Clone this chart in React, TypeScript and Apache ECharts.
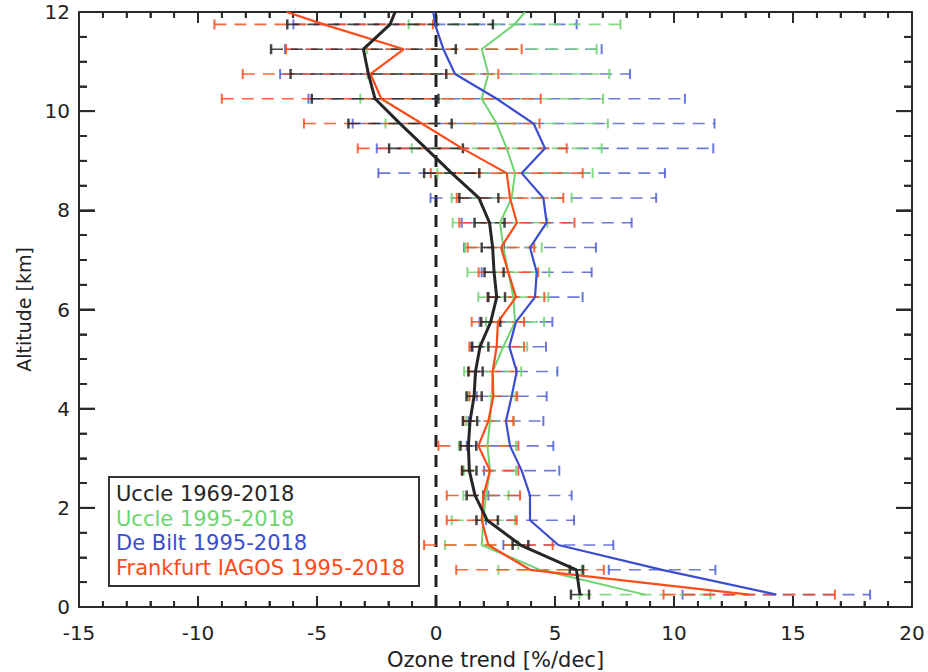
import React, { useEffect, useRef } from "react";
import * as echarts from "echarts";

// Altitude levels (km) of the error bars / profile points, bottom to top
const LEVELS = [0.25, 0.75, 1.25, 1.75, 2.25, 2.75, 3.25, 3.75, 4.25, 4.75, 5.25, 5.75,
  6.25, 6.75, 7.25, 7.75, 8.25, 8.75, 9.25, 9.75, 10.25, 10.75, 11.25, 11.75];
// profile lines continue to the top frame (12 km)
const LINE_LEVELS = [...LEVELS, 12];

// Uccle 1969-2018 (black)
const UCCLE_LONG = [6.05, 5.9, 3.55, 2.15, 1.64, 1.4, 1.36, 1.43, 1.6, 1.66, 1.85, 2.3,
  2.55, 2.44, 2.38, 2.25, 1.8, 0.66, -0.42, -1.51, -2.56, -2.84, -3.05, -1.93, -1.72];
const UCCLE_LONG_ERR = [0.38, 0.28, 0.33, 0.45, 0.35, 0.3, 0.33, 0.3, 0.32, 0.3, 0.35, 0.4,
  0.35, 0.4, 0.46, 0.63, 0.82, 1.16, 1.55, 2.17, 2.66, 3.27, 3.88, 4.32];

// Uccle 1995-2018 (green)
const UCCLE_SHORT = [8.78, 4.37, 1.92, 1.99, 2.1, 2.27, 2.16, 2.27, 2.34, 2.38, 2.83, 3.32,
  3.25, 3.04, 2.83, 2.69, 3.18, 3.32, 2.97, 2.55, 1.92, 2.2, 1.92, 3.3, 3.74];
const UCCLE_SHORT_ERR = [2.75, 1.75, 1.54, 1.33, 0.95, 1.1, 1.2, 1.0, 1.0, 1.2, 1.0, 1.22,
  1.47, 1.72, 1.61, 1.99, 2.52, 3.26, 3.99, 4.67, 5.1, 5.08, 4.83, 4.45];

// De Bilt 1995-2018 (blue)
const DEBILT = [14.3, 9.5, 5.14, 3.95, 3.95, 3.6, 3.11, 2.94, 3.18, 3.39, 3.08, 3.36,
  4.16, 4.23, 3.95, 4.65, 4.51, 3.6, 4.58, 4.1, 2.55, 0.8, 0.31, -0.04, -0.11];
const DEBILT_ERR = [3.94, 2.24, 2.31, 1.85, 1.75, 1.58, 1.82, 1.57, 1.47, 1.71, 1.54, 1.53,
  2.0, 2.31, 2.77, 3.57, 4.74, 6.02, 7.07, 7.6, 7.91, 7.35, 6.65, 5.95];

// Frankfurt IAGOS 1995-2018 (red)
const IAGOS = [13.16, 3.95, 2.2, 1.92, 1.99, 2.27, 1.78, 2.2, 2.41, 2.38, 2.55, 2.6,
  3.36, 3.04, 2.73, 3.4, 3.11, 2.97, 1.1, -0.6, -2.3, -2.75, -1.35, -4.72, -6.27];
const IAGOS_ERR = [3.6, 3.1, 2.7, 1.47, 1.54, 1.19, 1.68, 1.05, 1.0, 1.0, 1.15, 1.1,
  1.19, 1.25, 1.4, 2.42, 2.24, 3.19, 4.39, 4.95, 6.7, 5.37, 4.95, 4.59];

const LEGEND_NAMES = ["Uccle 1969-2018", "Uccle 1995-2018", "De Bilt 1995-2018", "Frankfurt IAGOS 1995-2018"];
const COLORS = ["#262626", "#6fd46f", "#3a4ccf", "#ff4a1a"];

// axis ranges and ticks (major every 5 %/dec and 2 km, minor every 1 %/dec and 0.5 km)
const X_MIN = -15, X_MAX = 20, X_STEP = 5, X_MINOR = 5;
const Y_MIN = 0, Y_MAX = 12, Y_STEP = 2, Y_MINOR = 4;
const X_MAJOR_TICKS = [-15, -10, -5, 0, 5, 10, 15, 20];
const Y_MAJOR_TICKS = [0, 2, 4, 6, 8, 10, 12];

const FONT = "DejaVu Sans";
const AXIS_COLOR = "#2a2a2a";

function errSeries(name: string, color: string, vals: number[], errs: number[], capW: number, opacity: number) {
  const data = LEVELS.map((h, i) => [vals[i] - errs[i], vals[i] + errs[i], h]);
  return {
    type: "custom",
    name: name + " err",
    data,
    z: 2,
    encode: { x: [0, 1], y: 2 },
    renderItem: (_p: any, api: any) => {
      const lo = api.coord([api.value(0), api.value(2)]);
      const hi = api.coord([api.value(1), api.value(2)]);
      const cap = 5;
      return {
        type: "group",
        children: [
          { type: "line", shape: { x1: lo[0], y1: lo[1], x2: hi[0], y2: hi[1] },
            style: { stroke: color, lineWidth: 1.6, lineDash: [12, 8], opacity } },
          { type: "line", shape: { x1: lo[0], y1: lo[1] - cap, x2: lo[0], y2: lo[1] + cap },
            style: { stroke: color, lineWidth: capW, opacity } },
          { type: "line", shape: { x1: hi[0], y1: hi[1] - cap, x2: hi[0], y2: hi[1] + cap },
            style: { stroke: color, lineWidth: capW, opacity } },
        ],
      };
    },
  };
}

function lineSeries(name: string, color: string, vals: number[], width: number, z: number) {
  return {
    type: "line",
    name,
    data: LINE_LEVELS.map((h, i) => [vals[i], h]),
    symbol: "none",
    z,
    lineStyle: { color, width },
  };
}

// tick values: [value, isMajor]
function tickValues(majors: number[], n: number) {
  const out: [number, boolean][] = [];
  for (let i = 0; i < majors.length; i++) {
    out.push([majors[i], true]);
    if (i < majors.length - 1) {
      const d = (majors[i + 1] - majors[i]) / n;
      for (let k = 1; k < n; k++) out.push([majors[i] + k * d, false]);
    }
  }
  return out;
}

function makeAxis(kind: "x" | "y", position: string, labelled: boolean) {
  const isX = kind === "x";
  const ax: any = {
    type: "value",
    position,
    min: isX ? X_MIN : Y_MIN,
    max: isX ? X_MAX : Y_MAX,
    interval: isX ? X_STEP : Y_STEP,
    axisLine: { show: true, onZero: false, lineStyle: { color: AXIS_COLOR, width: 2 } },
    splitLine: { show: false },
    axisTick: { show: true, inside: true, length: isX ? 11 : 16, lineStyle: { color: AXIS_COLOR, width: 2 } },
    minorTick: { show: true, splitNumber: isX ? X_MINOR : Y_MINOR, length: isX ? 6 : 8, lineStyle: { color: AXIS_COLOR, width: 1.8 } },
    axisLabel: labelled
      ? { show: true, fontFamily: FONT, fontSize: 20, color: "#222", margin: isX ? 16 : 9 }
      : { show: false },
  };
  return ax;
}

export default function App() {
  const ref = useRef<HTMLDivElement>(null);
  useEffect(() => {
    document.body.style.margin = "0";
    const chart = echarts.init(ref.current!, null, { renderer: "svg" });
    const xBottom = makeAxis("x", "bottom", true);
    xBottom.name = "Ozone trend [%/dec]";
    xBottom.nameLocation = "middle";
    xBottom.nameGap = 42;
    xBottom.nameTextStyle = { fontFamily: FONT, fontSize: 21, color: "#222" };
    const yLeft = makeAxis("y", "left", true);
    yLeft.name = "Altitude [km]";
    yLeft.nameLocation = "middle";
    yLeft.nameGap = 45;
    yLeft.nameRotate = 90;
    yLeft.nameTextStyle = { fontFamily: FONT, fontSize: 19, color: "#222" };

    const legendGroup = {
      type: "group", left: 108, top: 476, z: 100,
      children: [
        { type: "rect", shape: { x: 0, y: 0, width: 310, height: 109 },
          style: { fill: "#ffffff", stroke: "#333", lineWidth: 2 } },
        ...LEGEND_NAMES.map((n, i) => ({
          type: "text", x: 7, y: 17 + i * 24.5,
          style: { text: n, fill: COLORS[i], fontFamily: FONT, fontSize: 21, verticalAlign: "middle", align: "left" },
        })),
      ],
    };

    const option: any = {
      animation: false,
      grid: { left: 79, right: 16, top: 12, bottom: 65, containLabel: false, outerBoundsMode: "none" },
      xAxis: [xBottom, makeAxis("x", "top", false)],
      yAxis: [yLeft, makeAxis("y", "right", false)],
      series: [
        {
          type: "line", name: "zero", data: [[0, Y_MIN], [0, Y_MAX]], symbol: "none", z: 1,
          lineStyle: { color: "#222", width: 3, type: [12, 8] },
        },
        errSeries(LEGEND_NAMES[2], COLORS[2], DEBILT, DEBILT_ERR, 2, 0.75),
        errSeries(LEGEND_NAMES[1], COLORS[1], UCCLE_SHORT, UCCLE_SHORT_ERR, 2, 0.85),
        errSeries(LEGEND_NAMES[3], COLORS[3], IAGOS, IAGOS_ERR, 2, 0.85),
        errSeries(LEGEND_NAMES[0], COLORS[0], UCCLE_LONG, UCCLE_LONG_ERR, 2.5, 0.85),
        lineSeries(LEGEND_NAMES[1], COLORS[1], UCCLE_SHORT, 2, 4),
        lineSeries(LEGEND_NAMES[3], COLORS[3], IAGOS, 2.2, 5),
        lineSeries(LEGEND_NAMES[2], COLORS[2], DEBILT, 2.2, 6),
        lineSeries(LEGEND_NAMES[0], COLORS[0], UCCLE_LONG, 3, 7),
      ],
      graphic: [legendGroup],
    };
    chart.setOption(option);

    // inward tick marks on all four frame sides, positioned through the axis scales
    const px = (v: number) => chart.convertToPixel({ xAxisIndex: 0 }, v) as unknown as number;
    const py = (v: number) => chart.convertToPixel({ yAxisIndex: 0 }, v) as unknown as number;
    const yb = py(Y_MIN), yt = py(Y_MAX), xl = px(X_MIN), xr = px(X_MAX);
    const tickEls: any[] = [];
    tickValues(X_MAJOR_TICKS, X_MINOR).forEach(([v, major]) => {
      const x = px(v);
      const len = major ? 11 : 6;
      const lw = major ? 2 : 1.8;
      tickEls.push({ type: "line", shape: { x1: x, y1: yb, x2: x, y2: yb - len }, style: { stroke: AXIS_COLOR, lineWidth: lw } });
      tickEls.push({ type: "line", shape: { x1: x, y1: yt, x2: x, y2: yt + len }, style: { stroke: AXIS_COLOR, lineWidth: lw } });
    });
    tickValues(Y_MAJOR_TICKS, Y_MINOR).forEach(([v, major]) => {
      const y = py(v);
      const len = major ? 16 : 8;
      const lw = major ? 2 : 1.8;
      tickEls.push({ type: "line", shape: { x1: xl, y1: y, x2: xl + len, y2: y }, style: { stroke: AXIS_COLOR, lineWidth: lw } });
      tickEls.push({ type: "line", shape: { x1: xr, y1: y, x2: xr - len, y2: y }, style: { stroke: AXIS_COLOR, lineWidth: lw } });
    });
    chart.setOption({ graphic: [legendGroup, { type: "group", z: 90, children: tickEls }] });

    return () => chart.dispose();
  }, []);
  return <div ref={ref} style={{ width: 928, height: 672 }} />;
}
